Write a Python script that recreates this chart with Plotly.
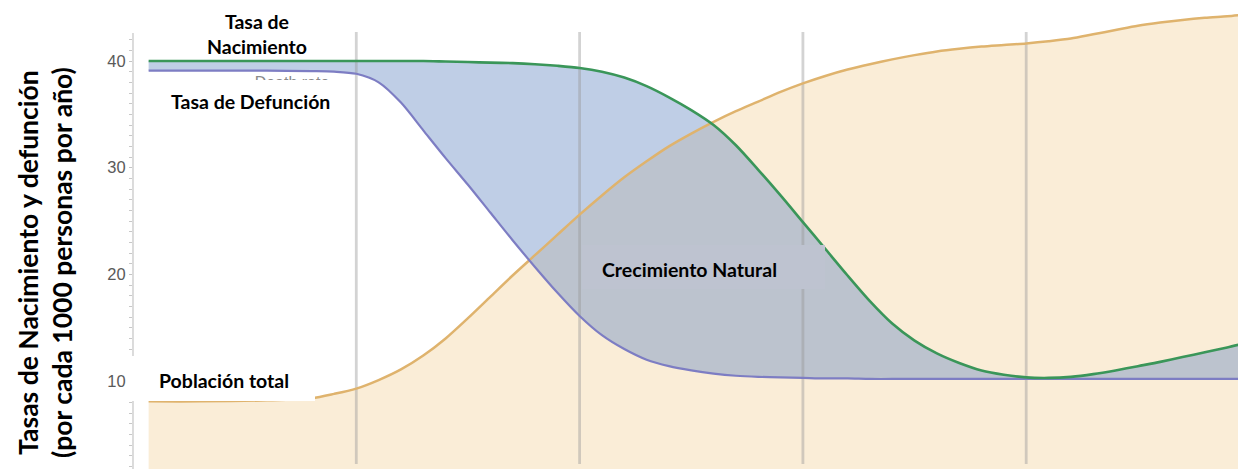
import plotly.graph_objects as go

# ---------------- data ----------------
stage_x = [0.07, 0.3, 0.6, 0.8, 0.9, 1.0, 1.1, 1.2, 1.3, 1.4, 1.5, 1.6, 1.7, 1.8, 1.9,
           2.0, 2.1, 2.2, 2.3, 2.4, 2.5, 2.6, 2.7, 2.8, 2.9, 3.0, 3.1, 3.2, 3.3, 3.4,
           3.5, 3.6, 3.7, 3.8, 3.9, 4.0, 4.1, 4.2, 4.3, 4.4, 4.5, 4.6, 4.7, 4.8, 4.9,
           4.95]
birth_rate = [40.0, 40.0, 40.0, 40.0, 40.0, 40.0, 40.0, 40.0, 40.0, 39.95, 39.9, 39.85,
              39.8, 39.7, 39.55, 39.35, 39.0, 38.45, 37.65, 36.6, 35.4, 34.0, 32.1, 29.8,
              27.4, 24.9, 22.4, 19.9, 17.5, 15.4, 13.8, 12.6, 11.7, 11.0, 10.6, 10.35,
              10.3, 10.4, 10.65, 11.0, 11.4, 11.8, 12.25, 12.7, 13.15, 13.4]
death_rate = [39.1, 39.1, 39.1, 39.05, 39.0, 38.8, 38.0, 36.1, 33.5, 30.9, 28.4, 25.8,
              23.2, 20.7, 18.3, 16.1, 14.3, 13.0, 12.0, 11.4, 11.0, 10.7, 10.5, 10.4,
              10.35, 10.3, 10.25, 10.25, 10.2, 10.2, 10.2, 10.2, 10.2, 10.2, 10.2, 10.2,
              10.2, 10.2, 10.2, 10.2, 10.2, 10.2, 10.2, 10.2, 10.2, 10.2]
population = [8.1, 8.1, 8.2, 8.4, 8.8, 9.3, 10.1, 11.1, 12.4, 14.0, 15.9, 17.9, 19.9,
              21.8, 23.7, 25.6, 27.4, 29.1, 30.6, 32.0, 33.2, 34.3, 35.3, 36.2, 37.1,
              37.9, 38.6, 39.2, 39.7, 40.15, 40.55, 40.9, 41.15, 41.35, 41.5, 41.65,
              41.85, 42.1, 42.5, 42.9, 43.3, 43.6, 43.85, 44.05, 44.2, 44.3]
stage_bounds = [1, 2, 3, 4]
y_ticks = [10, 20, 30, 40]

# ---------------- styling / layout helpers ----------------
W, H = 1238, 469
ML = 133                     # x pixel of the y axis
PX_PER_X = 223.3
PX_PER_Y = 10.67
def X(px):  # pixel -> data x
    return (px - ML) / PX_PER_X
def Y(py):  # pixel -> data y
    return 40 - (py - 61) / PX_PER_Y
def XP(px):  # pixel -> paper x
    return (px - ML) / (W - ML)

GREEN = "#3a9659"
PURPLE = "#7d7dc3"
ORANGE = "#dfb36d"
BEIGE = "#faedd7"
BLUE_FILL = "rgba(95,132,192,0.40)"
SEP_LINE = "rgba(150,150,150,0.42)"
LBL_FONT = "Lato"
SPL = dict(shape="spline", smoothing=0.8)

fig = go.Figure()

# population area
fig.add_trace(go.Scatter(x=stage_x, y=population, mode="lines", fill="tozeroy",
                         fillcolor=BEIGE, line=dict(width=0, **SPL),
                         hoverinfo="skip", showlegend=False))
# natural increase area (between birth and death)
fig.add_trace(go.Scatter(x=stage_x, y=death_rate, mode="lines",
                         line=dict(width=0, **SPL), hoverinfo="skip", showlegend=False))
fig.add_trace(go.Scatter(x=stage_x, y=birth_rate, mode="lines", fill="tonexty",
                         fillcolor=BLUE_FILL, line=dict(width=0, **SPL),
                         hoverinfo="skip", showlegend=False))

# stage separators
sx, sy = [], []
for b in stage_bounds:
    sx += [b, b, None]
    sy += [Y(464), Y(32), None]
fig.add_trace(go.Scatter(x=sx, y=sy, mode="lines", line=dict(color=SEP_LINE, width=2.8),
                         hoverinfo="skip", showlegend=False))

# curves
fig.add_trace(go.Scatter(x=stage_x, y=population, mode="lines",
                         line=dict(color=ORANGE, width=2.5, **SPL), showlegend=False))
fig.add_trace(go.Scatter(x=stage_x, y=death_rate, mode="lines",
                         line=dict(color=PURPLE, width=2.2, **SPL), showlegend=False))
fig.add_trace(go.Scatter(x=stage_x, y=birth_rate, mode="lines",
                         line=dict(color=GREEN, width=2.6, **SPL), showlegend=False))

# original English label, mostly hidden under the pasted label box
fig.add_trace(go.Scatter(x=[X(292)], y=[Y(84)], mode="text", text=["Death rate"],
                         textfont=dict(family="Liberation Sans", size=16, color="#8a8a8a"),
                         hoverinfo="skip", showlegend=False))

shapes = [
    # left axis line
    dict(type="line", xref="paper", yref="y", x0=0, x1=0, y0=Y(469), y1=Y(33),
         line=dict(color="#c4c4c4", width=1.2), layer="below"),
    # white box of "Tasa de Defunción"
    dict(type="rect", xref="x", yref="y", x0=X(148), x1=X(350), y0=Y(130), y1=Y(80),
         fillcolor="white", line=dict(width=0), layer="above"),
    # white box of "Población total"
    dict(type="rect", xref="paper", yref="y", x0=XP(128), x1=XP(315), y0=Y(401), y1=Y(356),
         fillcolor="white", line=dict(width=0), layer="above"),
    # box of "Crecimiento Natural"
    dict(type="rect", xref="x", yref="y", x0=X(582), x1=X(825), y0=Y(289), y1=Y(245),
         fillcolor="#bec3d0", line=dict(width=0), layer="above"),
]

def lbl(text, px, py, size=19.5):
    return dict(text="<b>" + text + "</b>", x=X(px), y=Y(py), xref="x", yref="y",
                showarrow=False, xanchor="center", yanchor="middle",
                font=dict(family=LBL_FONT, size=size, color="black"))

annotations = [
    lbl("Tasa de<br>Nacimiento", 257, 34),
    lbl("Tasa de Defunción", 250, 101),
    lbl("Población total", 224, 380),
    lbl("Crecimiento Natural", 689, 269),
    dict(text="<b>Tasas de Nacimiento y defunción<br>(por cada 1000 personas por año)</b>",
         x=XP(45), y=Y(263), xref="paper", yref="y", textangle=-90, showarrow=False,
         xanchor="center", yanchor="middle",
         font=dict(family=LBL_FONT, size=26.5, color="black")),
]

fig.update_layout(
    width=W, height=H,
    margin=dict(l=ML, r=0, t=0, b=0),
    paper_bgcolor="white", plot_bgcolor="white",
    xaxis=dict(range=[0, (W - ML) / PX_PER_X], visible=False, fixedrange=True),
    yaxis=dict(range=[Y(H), Y(0)], tickvals=y_ticks,
               ticktext=[str(v) for v in y_ticks],
               showgrid=False, zeroline=False, showline=False,
               ticks="outside", ticklen=3, tickcolor="#c4c4c4",
               tickfont=dict(family="Liberation Sans", size=16.5, color="#5a5a5a"),
               minor=dict(tickvals=list(range(2, 43)), ticks="outside", ticklen=3,
                          tickcolor="#c8c8c8", showgrid=False)),
    shapes=shapes,
    annotations=annotations,
    showlegend=False,
)

# remove the default page margin so the figure fills the window exactly
fig.write_html("out.html",
               config={"displayModeBar": False},
               post_script="document.body.style.margin='0';"
                           "document.body.style.overflow='hidden';")
